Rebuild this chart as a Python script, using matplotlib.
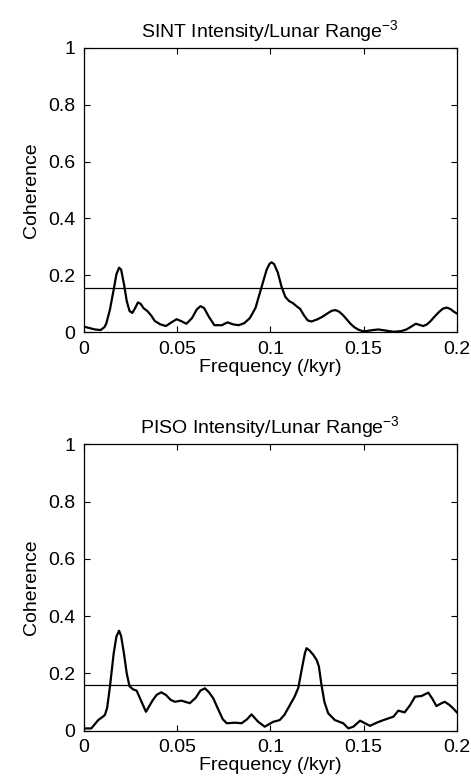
import matplotlib
matplotlib.use("Agg")
import matplotlib.pyplot as plt

plt.rcParams['font.family'] = ['Liberation Sans', 'DejaVu Sans']
plt.rcParams['mathtext.default'] = 'regular'

# SINT coherence (top)
sint_freq = [0.0, 0.003, 0.006, 0.009, 0.011, 0.012, 0.014, 0.016, 0.0175, 0.0189, 0.020,
             0.0215, 0.023, 0.0245, 0.026, 0.0275, 0.029, 0.0305, 0.032, 0.034, 0.036,
             0.038, 0.041, 0.044, 0.047, 0.0497, 0.052, 0.055, 0.058, 0.0605, 0.0626,
             0.0645, 0.067, 0.070, 0.074, 0.077, 0.080, 0.083, 0.086, 0.089, 0.092, 0.094,
             0.096, 0.098, 0.0995, 0.1006, 0.102, 0.104, 0.106, 0.108, 0.110, 0.112, 0.114,
             0.116, 0.118, 0.120, 0.122, 0.125, 0.128, 0.131, 0.133, 0.135, 0.137, 0.139,
             0.141, 0.143, 0.145, 0.147, 0.149, 0.151, 0.155, 0.158, 0.162, 0.166, 0.170,
             0.173, 0.176, 0.178, 0.180, 0.182, 0.184, 0.186, 0.188, 0.1905, 0.1925,
             0.1945, 0.1965, 0.1985, 0.2]
sint_coh = [0.020, 0.015, 0.010, 0.008, 0.018, 0.030, 0.080, 0.150, 0.205, 0.227, 0.220,
            0.170, 0.110, 0.075, 0.068, 0.085, 0.105, 0.100, 0.085, 0.075, 0.060,
            0.040, 0.028, 0.022, 0.035, 0.046, 0.040, 0.030, 0.050, 0.080, 0.092,
            0.085, 0.055, 0.025, 0.025, 0.035, 0.028, 0.025, 0.032, 0.050, 0.085, 0.130,
            0.175, 0.220, 0.240, 0.246, 0.240, 0.210, 0.160, 0.125, 0.110, 0.103, 0.092,
            0.082, 0.060, 0.042, 0.038, 0.045, 0.055, 0.068, 0.076, 0.078, 0.072, 0.060,
            0.045, 0.030, 0.018, 0.010, 0.005, 0.004, 0.008, 0.010, 0.006, 0.002, 0.004,
            0.010, 0.022, 0.030, 0.026, 0.022, 0.028, 0.040, 0.055, 0.072, 0.083,
            0.087, 0.082, 0.072, 0.066]

# PISO coherence (bottom)
piso_freq = [0.0, 0.004, 0.0077, 0.0100, 0.0113, 0.0125, 0.014, 0.016, 0.0175, 0.0189,
             0.020, 0.0215, 0.023, 0.0245, 0.0265, 0.0283, 0.031, 0.0333, 0.035, 0.037,
             0.039, 0.0415, 0.044, 0.0465, 0.0488, 0.0523, 0.0568, 0.060, 0.0625, 0.0649,
             0.067, 0.0694, 0.072, 0.0745, 0.0766, 0.081, 0.0846, 0.0875, 0.0899, 0.0935,
             0.097, 0.1015, 0.105, 0.1075, 0.1095, 0.113, 0.115, 0.117, 0.1185, 0.1194,
             0.121, 0.123, 0.1248, 0.126, 0.1274, 0.129, 0.131, 0.1346, 0.1391, 0.1418,
             0.1445, 0.1481, 0.151, 0.1534, 0.157, 0.1606, 0.166, 0.1686, 0.172, 0.175,
             0.1776, 0.181, 0.1847, 0.187, 0.189, 0.1915, 0.1935, 0.196, 0.198, 0.2]
piso_coh = [0.008, 0.008, 0.037, 0.048, 0.055, 0.080, 0.154, 0.270, 0.330, 0.349,
            0.330, 0.270, 0.200, 0.155, 0.144, 0.140, 0.100, 0.066, 0.085, 0.107,
            0.125, 0.134, 0.125, 0.108, 0.101, 0.105, 0.096, 0.115, 0.140, 0.148,
            0.135, 0.113, 0.075, 0.040, 0.026, 0.028, 0.026, 0.040, 0.057, 0.031,
            0.014, 0.031, 0.037, 0.055, 0.078, 0.119, 0.150, 0.220, 0.270, 0.288,
            0.280, 0.265, 0.247, 0.225, 0.160, 0.100, 0.061, 0.037, 0.026, 0.008,
            0.014, 0.035, 0.025, 0.017, 0.028, 0.037, 0.049, 0.070, 0.064, 0.090,
            0.119, 0.121, 0.133, 0.110, 0.086, 0.095, 0.101, 0.090, 0.078, 0.064]

thresholds = [0.157, 0.16]
titles = ['SINT Intensity/Lunar Range$^{-3}$', 'PISO Intensity/Lunar Range$^{-3}$']
xticks = [0, 0.05, 0.1, 0.15, 0.2]
xticklabels = ['0', '0.05', '0.1', '0.15', '0.2']
yticks = [0, 0.2, 0.4, 0.6, 0.8, 1.0]
yticklabels = ['0', '0.2', '0.4', '0.6', '0.8', '1']

fig = plt.figure(figsize=(4.71, 7.81), dpi=100)
rects = [[0.178, 0.5745, 0.792, 0.3644], [0.178, 0.0644, 0.792, 0.3667]]
data = [(sint_freq, sint_coh), (piso_freq, piso_coh)]

for i in range(2):
    ax = fig.add_axes(rects[i])
    f, c = data[i]
    ax.plot(f, c, color='black', lw=1.6, solid_joinstyle='round')
    ax.axhline(thresholds[i], color='black', lw=0.9)
    ax.set_xlim(0, 0.2)
    ax.set_ylim(0, 1)
    ax.set_xticks(xticks)
    ax.set_xticklabels(xticklabels)
    ax.set_yticks(yticks)
    ax.set_yticklabels(yticklabels)
    ax.tick_params(direction='in', top=True, right=True, length=4, width=0.8,
                   labelsize=14, pad=6)
    for s in ax.spines.values():
        s.set_linewidth(0.9)
    ax.set_title(titles[i], fontsize=14, pad=8)
    ax.set_xlabel('Frequency (/kyr)', fontsize=14, labelpad=1)
    ax.set_ylabel('Coherence', fontsize=14, labelpad=6)

fig.savefig('out.png', dpi=100)
